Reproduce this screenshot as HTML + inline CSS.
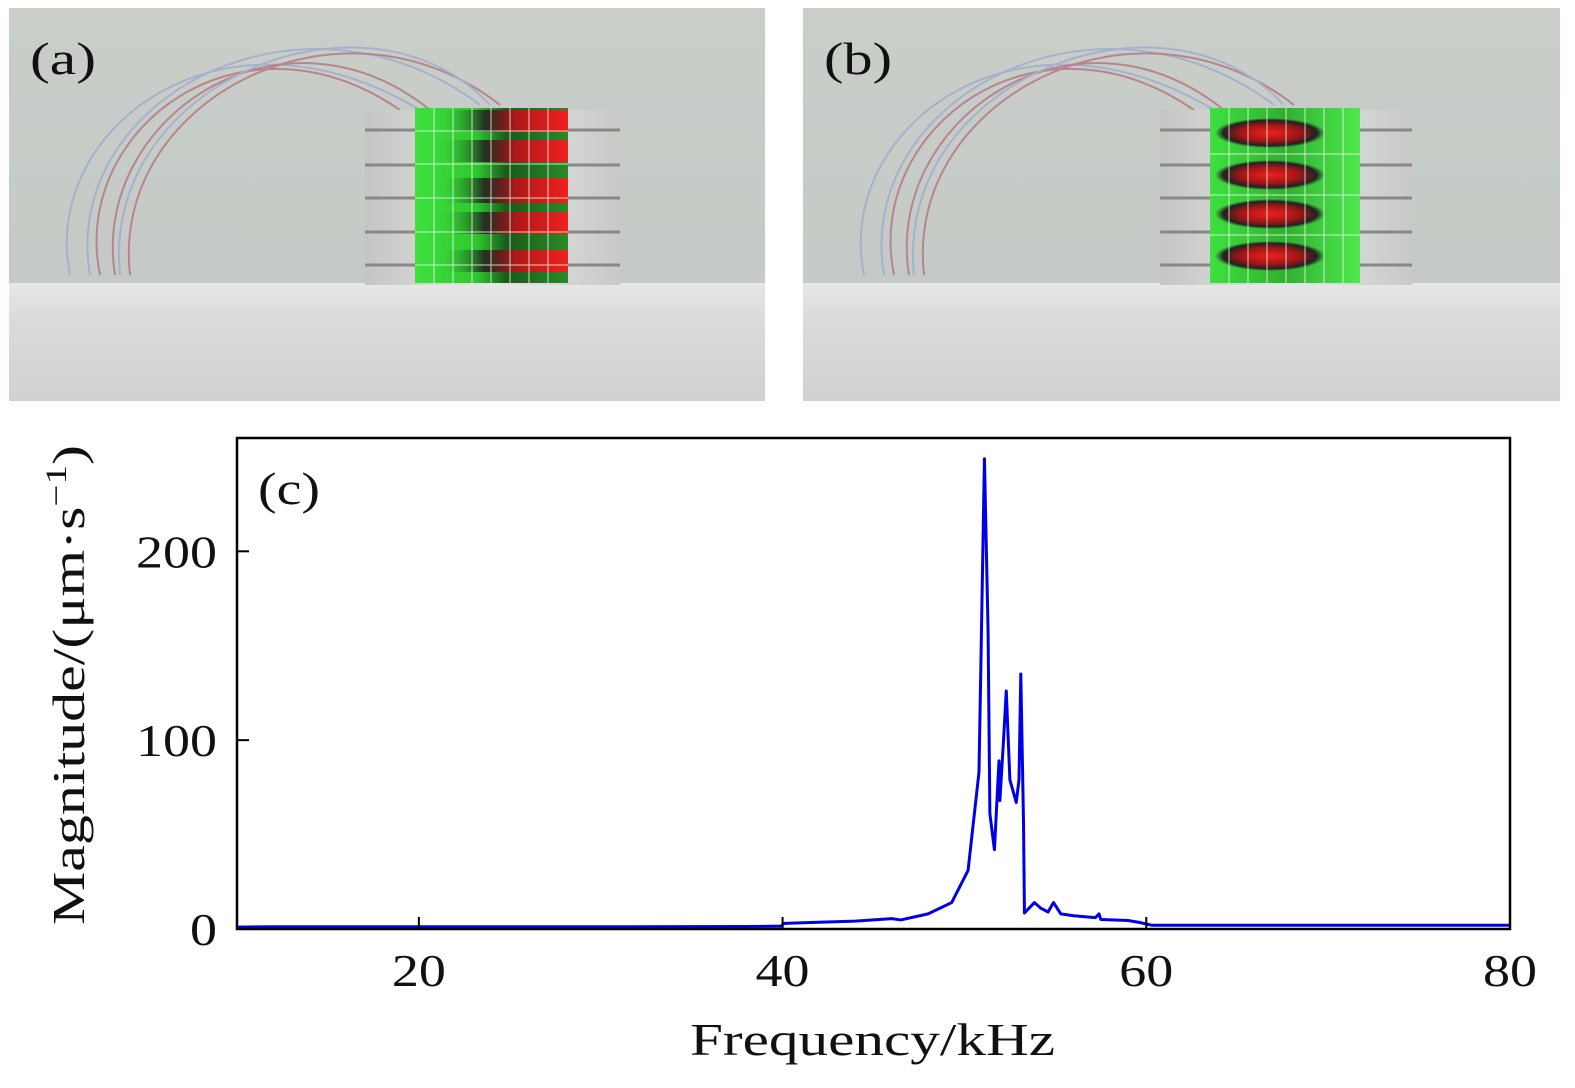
<!DOCTYPE html>
<html><head><meta charset="utf-8">
<style>
html,body{margin:0;padding:0;background:#fff;}
svg text{font-family:"Liberation Serif",serif;}
</style></head>
<body>
<svg width="1575" height="1083" viewBox="0 0 1575 1083" xmlns="http://www.w3.org/2000/svg">
<defs>
  <linearGradient id="bg" x1="0" y1="0" x2="0" y2="1">
    <stop offset="0" stop-color="#c9cec9"/><stop offset="1" stop-color="#c3c8c4"/>
  </linearGradient>
  <linearGradient id="foam" x1="0" y1="0" x2="0" y2="1">
    <stop offset="0" stop-color="#e6e8e6"/><stop offset="0.3" stop-color="#dadcda"/><stop offset="1" stop-color="#cfd2cf"/>
  </linearGradient>
  <linearGradient id="cyl" x1="0" y1="0" x2="1" y2="0">
    <stop offset="0" stop-color="#c4c6c4"/><stop offset="0.5" stop-color="#e4e5e4"/><stop offset="1" stop-color="#c8cac8"/>
  </linearGradient>
  <linearGradient id="greenA" x1="0" y1="0" x2="1" y2="0">
    <stop offset="0" stop-color="#3ee03e"/><stop offset="0.4" stop-color="#2ec82e"/><stop offset="0.6" stop-color="#1a5a1a"/><stop offset="1" stop-color="#2a8a2a"/>
  </linearGradient>
  <linearGradient id="redA" x1="0" y1="0" x2="1" y2="0">
    <stop offset="0" stop-color="#2fd02f" stop-opacity="0"/><stop offset="0.35" stop-color="#222" stop-opacity="0.9"/><stop offset="0.6" stop-color="#b01818"/><stop offset="1" stop-color="#f02020"/>
  </linearGradient>
  <radialGradient id="redB" cx="0.5" cy="0.5" r="0.5">
    <stop offset="0" stop-color="#f02020"/><stop offset="0.55" stop-color="#a01515"/><stop offset="0.85" stop-color="#222"/><stop offset="1" stop-color="#222" stop-opacity="0"/>
  </radialGradient>
  <linearGradient id="greenB" x1="0" y1="0" x2="1" y2="0">
    <stop offset="0" stop-color="#3ee03e"/><stop offset="0.5" stop-color="#30b030"/><stop offset="1" stop-color="#4ee84e"/>
  </linearGradient>
</defs>

<!-- Panel (a) -->
<g>
  <rect x="9" y="8" width="756" height="393" fill="url(#bg)"/>
  <rect x="9" y="283" width="756" height="118" fill="url(#foam)"/>
  <g fill="none" stroke-width="2" opacity="0.7">
    <path d="M70,275 C40,130 220,-10 420,110" stroke="#9aa6d0"/>
    <path d="M100,275 C70,130 240,0 400,110" stroke="#b06878"/>
    <path d="M115,275 C90,120 280,-10 430,110" stroke="#b06878"/>
    <path d="M90,275 C60,100 300,-30 480,105" stroke="#9aa6d0"/>
    <path d="M130,275 C110,100 340,-20 500,105" stroke="#b06878"/>
    <path d="M120,275 C100,80 370,-25 490,105" stroke="#9aa6d0"/>
  </g>
  <rect x="365" y="110" width="255" height="175" fill="url(#cyl)"/>
  <g stroke="#888" stroke-width="3">
    <line x1="365" y1="130" x2="620" y2="130"/><line x1="365" y1="165" x2="620" y2="165"/>
    <line x1="365" y1="198" x2="620" y2="198"/><line x1="365" y1="232" x2="620" y2="232"/>
    <line x1="365" y1="265" x2="620" y2="265"/>
  </g>
  <g>
    <rect x="415" y="108" width="153" height="175" fill="url(#greenA)"/>
    <rect x="440" y="110" width="128" height="22" fill="url(#redA)"/>
    <rect x="440" y="140" width="128" height="22" fill="url(#redA)"/>
    <rect x="440" y="178" width="128" height="25" fill="url(#redA)"/>
    <rect x="440" y="212" width="128" height="22" fill="url(#redA)"/>
    <rect x="440" y="250" width="128" height="22" fill="url(#redA)"/>
    <g stroke="#e8ffe8" stroke-width="1" opacity="0.8">
      <line x1="415" y1="131" x2="568" y2="131"/><line x1="415" y1="164" x2="568" y2="164"/>
      <line x1="415" y1="198" x2="568" y2="198"/><line x1="415" y1="232" x2="568" y2="232"/>
      <line x1="415" y1="265" x2="568" y2="265"/>
      <line x1="434" y1="108" x2="434" y2="283"/><line x1="453" y1="108" x2="453" y2="283"/>
      <line x1="472" y1="108" x2="472" y2="283"/><line x1="491" y1="108" x2="491" y2="283"/>
      <line x1="510" y1="108" x2="510" y2="283"/><line x1="529" y1="108" x2="529" y2="283"/>
      <line x1="548" y1="108" x2="548" y2="283"/>
    </g>
  </g>
  <text x="30" y="74" font-size="46" textLength="66" lengthAdjust="spacingAndGlyphs" fill="#111">(a)</text>
</g>

<!-- Panel (b) -->
<g>
  <rect x="803" y="8" width="757" height="393" fill="url(#bg)"/>
  <rect x="803" y="283" width="757" height="118" fill="url(#foam)"/>
  <g fill="none" stroke-width="2" opacity="0.7">
    <path d="M864,275 C834,130 1014,-10 1214,110" stroke="#9aa6d0"/>
    <path d="M894,275 C864,130 1034,0 1194,110" stroke="#b06878"/>
    <path d="M909,275 C884,120 1074,-10 1224,110" stroke="#b06878"/>
    <path d="M884,275 C854,100 1094,-30 1274,105" stroke="#9aa6d0"/>
    <path d="M924,275 C904,100 1134,-20 1294,105" stroke="#b06878"/>
    <path d="M914,275 C894,80 1164,-25 1284,105" stroke="#9aa6d0"/>
  </g>
  <rect x="1160" y="110" width="252" height="175" fill="url(#cyl)"/>
  <g stroke="#888" stroke-width="3">
    <line x1="1160" y1="130" x2="1412" y2="130"/><line x1="1160" y1="165" x2="1412" y2="165"/>
    <line x1="1160" y1="198" x2="1412" y2="198"/><line x1="1160" y1="232" x2="1412" y2="232"/>
    <line x1="1160" y1="265" x2="1412" y2="265"/>
  </g>
  <g>
    <rect x="1210" y="108" width="150" height="175" fill="url(#greenB)"/>
    <ellipse cx="1270" cy="133" rx="55" ry="15" fill="url(#redB)"/>
    <ellipse cx="1270" cy="175" rx="55" ry="15" fill="url(#redB)"/>
    <ellipse cx="1270" cy="214" rx="55" ry="15" fill="url(#redB)"/>
    <ellipse cx="1270" cy="256" rx="55" ry="15" fill="url(#redB)"/>
    <g stroke="#e8ffe8" stroke-width="1" opacity="0.8">
      <line x1="1210" y1="154" x2="1360" y2="154"/><line x1="1210" y1="195" x2="1360" y2="195"/>
      <line x1="1210" y1="235" x2="1360" y2="235"/>
      <line x1="1229" y1="108" x2="1229" y2="283"/><line x1="1248" y1="108" x2="1248" y2="283"/>
      <line x1="1267" y1="108" x2="1267" y2="283"/><line x1="1286" y1="108" x2="1286" y2="283"/>
      <line x1="1305" y1="108" x2="1305" y2="283"/><line x1="1324" y1="108" x2="1324" y2="283"/>
      <line x1="1343" y1="108" x2="1343" y2="283"/>
    </g>
  </g>
  <text x="824" y="74" font-size="46" textLength="68" lengthAdjust="spacingAndGlyphs" fill="#111">(b)</text>
</g>

<!-- Panel (c) chart -->
<g id="chart"></g>
</svg>
<script>
const freqs = [10,12,20,30,38,39.9,40.1,42,44,46,46.5,48,49.3,50.2,50.8,50.9,51.1,51.3,51.4,51.65,51.9,51.95,52.15,52.3,52.5,52.85,53.0,53.1,53.25,53.3,53.85,54.2,54.6,54.9,55.3,56,57.2,57.4,57.5,59,59.6,60.3,65,70,75,80];
const mags  = [1,1.2,1.2,1.2,1.3,1.5,3,3.6,4.2,5.5,4.8,8,14,31,83,137,249,158,61,42,89,68,100,126,79,67,79,135,56,8.5,14,11,9,14,8,7,6,8,5,4.5,3.5,2,2,2,2,2];
const xTicks = [20,40,60,80];
const yTicks = [0,100,200];
const X0=237,X1=1510,Y0=929,Y1=438;
const xMin=10,xMax=80,yMin=0,yMax=260;
const sx=v=>X0+(v-xMin)/(xMax-xMin)*(X1-X0);
const sy=v=>Y0-(v-yMin)/(yMax-yMin)*(Y0-Y1);
const NS="http://www.w3.org/2000/svg";
const g=document.getElementById('chart');
function mk(t,a){const e=document.createElementNS(NS,t);for(const k in a)e.setAttribute(k,a[k]);g.appendChild(e);return e;}
const line=mk('polyline',{points:freqs.map((f,i)=>sx(f)+','+sy(mags[i])).join(' '),fill:'none',stroke:'#0000e6','stroke-width':3,'stroke-linejoin':'round'});


const box=mk('rect',{x:X0,y:Y1,width:X1-X0,height:Y0-Y1,fill:'none',stroke:'#000','stroke-width':2.5});


xTicks.forEach(v=>{
  const t=mk('line',{x1:sx(v),x2:sx(v),y1:Y0,y2:Y0-12,stroke:'#000','stroke-width':2});
  
  
  const l=mk('text',{x:sx(v),y:Y0+57,'font-size':46,'text-anchor':'middle',fill:'#111',textLength:54,lengthAdjust:'spacingAndGlyphs'});l.textContent=v;
  
  
});
yTicks.forEach(v=>{
  const t=mk('line',{x1:X0,x2:X0+12,y1:sy(v),y2:sy(v),stroke:'#000','stroke-width':2});
  
  
  const w=String(v).length*27;
  const l=mk('text',{x:X0-20-w,y:sy(v)+16,'font-size':46,fill:'#111',textLength:w,lengthAdjust:'spacingAndGlyphs'});l.textContent=v;
  
  
});
const xt=mk('text',{x:690,y:1055,'font-size':46,fill:'#111',textLength:365,lengthAdjust:'spacingAndGlyphs'});xt.textContent='Frequency/kHz';


const yt=mk('text',{x:-240,y:0,'font-size':46,fill:'#111',textLength:480,lengthAdjust:'spacingAndGlyphs',transform:'translate(84,685) rotate(-90)'});
yt.innerHTML='Magnitude/(μm·s<tspan font-size="30" dy="-18">−1</tspan><tspan dy="18">)</tspan>';


const lc=mk('text',{x:258,y:504,'font-size':46,fill:'#111',textLength:62,lengthAdjust:'spacingAndGlyphs'});lc.textContent='(c)';


</script>
</body></html>
